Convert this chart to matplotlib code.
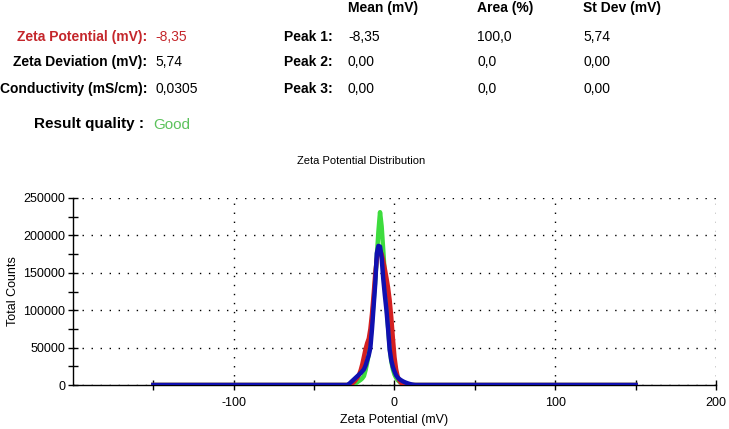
import matplotlib
matplotlib.use("Agg")
import matplotlib.pyplot as plt
from matplotlib.ticker import MultipleLocator, FixedLocator

plt.rcParams['font.family'] = ['Liberation Sans', 'DejaVu Sans']
plt.rcParams['axes.unicode_minus'] = False

# ---- data ----
zeta_mv = [-150, -30, -29, -28, -27, -26, -25, -24, -23, -22, -21, -20, -19, -18, -17, -16,
           -15, -14, -13, -12, -11, -10, -9, -8, -7, -6, -5, -4, -3, -2, -1, 0,
           1, 2, 3, 4, 5, 6, 7, 8, 9, 10, 11, 12, 13, 14, 15, 150]

counts_green = [0, 0, 0, 0, 0, 0, 1000, 2500, 4000, 5500, 7000, 9000, 12000, 20000, 30000, 42000,
                60000, 85000, 112000, 140000, 172000, 205000, 231000, 212000, 180000, 145000, 110000, 78000, 50000, 32000, 21000, 14000,
                9500, 6500, 4500, 3200, 2200, 1400, 800, 400, 100, 0, 0, 0, 0, 0, 0, 0]

counts_red = [0, 0, 0, 0, 1000, 2500, 4500, 7000, 10000, 14000, 20000, 28000, 38000, 48000, 56000, 62000,
              75000, 95000, 120000, 148000, 168000, 180000, 180000, 175000, 166000, 155000, 143000, 130000, 113000, 90000, 62000, 37000,
              21000, 11000, 6000, 3000, 1200, 300, 0, 0, 0, 0, 0, 0, 0, 0, 0, 0]

counts_blue = [0, 0, 0, 2000, 4000, 6000, 8000, 10000, 12000, 14000, 16000, 18500, 21000, 26000, 33000, 40000,
               50000, 75000, 105000, 135000, 176000, 186000, 185000, 170000, 142000, 120000, 100000, 75000, 47000, 33000, 24000, 18000,
               13000, 10000, 8000, 6500, 5200, 4100, 3200, 2400, 1700, 1100, 600, 250, 0, 0, 0, 0]

summary_labels = ["Zeta Potential (mV):", "Zeta Deviation (mV):", "Conductivity (mS/cm):"]
summary_values = ["-8,35", "5,74", "0,0305"]
peak_labels = ["Peak 1:", "Peak 2:", "Peak 3:"]
peak_headers = ["Mean (mV)", "Area (%)", "St Dev (mV)"]
peak_mean = ["-8,35", "0,00", "0,00"]
peak_area = ["100,0", "0,0", "0,0"]
peak_sd = ["5,74", "0,00", "0,00"]

# ---- figure ----
W, H = 729, 429
fig = plt.figure(figsize=(W / 100, H / 100), dpi=100)

def fx(px):
    return px / W

def fy(py):
    return 1 - py / H

# header text
red_txt = '#c4262b'
for i, (lab, val) in enumerate(zip(summary_labels, summary_values)):
    y = [37, 62, 89][i]
    col = red_txt if i == 0 else 'black'
    fig.text(fx(147), fy(y), lab, ha='right', va='center', fontsize=10, fontweight='bold', color=col)
    fig.text(fx(155), fy(y), val, ha='left', va='center', fontsize=10, color=col)

fig.text(fx(144), fy(124), "Result quality :", ha='right', va='center', fontsize=11, fontweight='bold')
fig.text(fx(153), fy(125), "Good", ha='left', va='center', fontsize=11, color='#5cc25c')

col_x = [348, 477, 583]
for hx, h in zip(col_x, peak_headers):
    fig.text(fx(hx), fy(8), h, ha='left', va='center', fontsize=10, fontweight='bold')
for i in range(3):
    y = [37, 62, 89][i]
    fig.text(fx(333), fy(y), peak_labels[i], ha='right', va='center', fontsize=10, fontweight='bold')
    fig.text(fx(col_x[0]), fy(y), peak_mean[i], ha='left', va='center', fontsize=10)
    fig.text(fx(col_x[1]), fy(y), peak_area[i], ha='left', va='center', fontsize=10)
    fig.text(fx(col_x[2]), fy(y), peak_sd[i], ha='left', va='center', fontsize=10)

fig.text(fx(361), fy(161), "Zeta Potential Distribution", ha='center', va='center', fontsize=8)

# axes
left, right, top, bottom = 73, 716, 198, 385
ax = fig.add_axes([fx(left), fy(bottom), fx(right - left), (bottom - top) / H])

ax.plot(zeta_mv, counts_green, color='#3ddc3d', lw=3.2, zorder=3)
ax.plot(zeta_mv, counts_red, color='#d42020', lw=3.2, zorder=4)
ax.plot(zeta_mv, counts_blue, color='#1010b0', lw=3.2, zorder=5)

ax.set_xlim(-200, 200)
ax.set_ylim(0, 250000)
ax.xaxis.set_major_locator(FixedLocator([-100, 0, 100, 200]))
ax.xaxis.set_minor_locator(FixedLocator([-150, -50, 50, 150]))
ax.yaxis.set_major_locator(MultipleLocator(50000))
ax.yaxis.set_minor_locator(MultipleLocator(25000))

for s in ['top', 'right']:
    ax.spines[s].set_visible(False)
for s in ['left', 'bottom']:
    ax.spines[s].set_color('black')
    ax.spines[s].set_linewidth(1.0)
    ax.spines[s].set_zorder(2)

ax.tick_params(axis='both', which='both', direction='inout', length=7, width=1, color='black',
               labelsize=9)
ax.tick_params(axis='x', which='both', pad=5)
ax.tick_params(axis='y', which='both', pad=2)

ax.grid(True, which='major', color='black', linestyle=(0, (1, 5.5)), linewidth=1.0, zorder=1)
ax.set_axisbelow(True)

ax.set_xlabel("Zeta Potential (mV)", fontsize=9, labelpad=4)
ax.set_ylabel("Total Counts", fontsize=9, labelpad=3)

fig.savefig("out.png", dpi=100)
